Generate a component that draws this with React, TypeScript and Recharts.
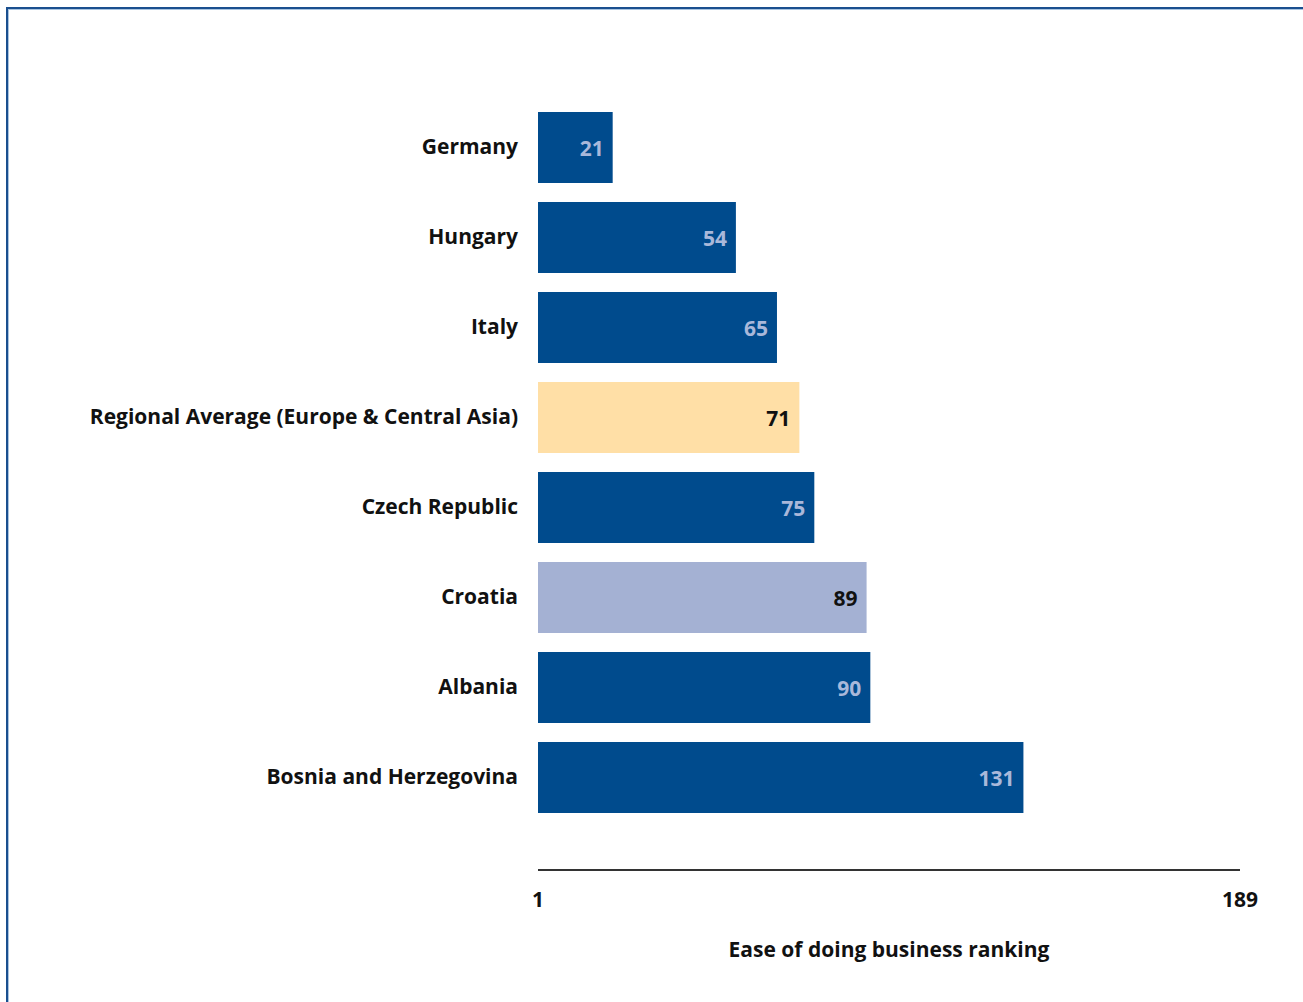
import { Bar, BarChart, Cell, LabelList, XAxis, YAxis } from "recharts";

const countries = [
  "Germany",
  "Hungary",
  "Italy",
  "Regional Average (Europe & Central Asia)",
  "Czech Republic",
  "Croatia",
  "Albania",
  "Bosnia and Herzegovina",
];
const rankings = [21, 54, 65, 71, 75, 89, 90, 131];
// what each row stands for: a plain country, the regional average, or the focus economy
const rowKinds = ["country", "country", "country", "average", "country", "focus", "country", "country"];
const axisTicks = [1, 189];

const barColour: Record<string, string> = {
  country: "#004B8D",
  average: "#FFDFA6",
  focus: "#A4B1D3",
};
const valueColour: Record<string, string> = {
  country: "#A9B8DA",
  average: "#111111",
  focus: "#111111",
};

const rows = countries.map((name, i) => ({ name, rank: rankings[i], kind: rowKinds[i] }));

const FONT = "'Open Sans', 'DejaVu Sans', sans-serif";
const FS = 21;

function ValueLabel(props: any) {
  const { x, y, width, height, value } = props;
  let idx = props.index;
  if (idx === undefined) idx = rankings.indexOf(Number(value));
  const kind = rowKinds[idx] ?? "country";
  return (
    <text
      x={Number(x) + Number(width) - 9}
      y={Number(y) + Number(height) / 2}
      textAnchor="end"
      dominantBaseline="central"
      fill={valueColour[kind]}
      fontFamily={FONT}
      fontWeight={700}
      fontSize={FS}
    >
      {value}
    </text>
  );
}

export default function App() {
  return (
    <div style={{ position: "absolute", left: 0, top: 0, width: 1303, height: 1002, background: "#fff", overflow: "hidden" }}>
      <div
        style={{
          position: "absolute",
          left: 6,
          top: 7,
          width: 1297,
          height: 995,
          borderLeft: "2px solid #1A4F8F",
          borderTop: "2px solid #1A4F8F",
          boxShadow: "inset 1px 1px 0 #A9C4E0",
          boxSizing: "border-box",
        }}
      />
      <div style={{ position: "absolute", left: 0, top: 0 }}>
        <BarChart
          width={1303}
          height={1002}
          data={rows}
          layout="vertical"
          margin={{ top: 102, right: 63, left: 0, bottom: 42 }}
          barSize={71}
        >
          <XAxis
            type="number"
            dataKey="rank"
            domain={[1, 189]}
            ticks={axisTicks}
            allowDataOverflow
            height={90}
            axisLine={{ stroke: "#333", strokeWidth: 2 }}
            tickLine={false}
            tickSize={0}
            tickMargin={22}
            tick={{ fill: "#111", fontFamily: FONT, fontWeight: 700, fontSize: FS }}
            label={{
              value: "Ease of doing business ranking",
              position: "insideBottom",
              offset: 3,
              fill: "#111",
              fontFamily: FONT,
              fontWeight: 700,
              fontSize: FS,
            }}
          />
          <YAxis
            type="category"
            dataKey="name"
            width={538}
            padding={{ top: 0, bottom: 48 }}
            axisLine={false}
            tickLine={false}
            tickSize={0}
            tickMargin={20}
            interval={0}
            tick={{ fill: "#111", fontFamily: FONT, fontWeight: 700, fontSize: FS }}
          />
          <Bar dataKey="rank" isAnimationActive={false}>
            {rows.map((r) => (
              <Cell key={r.name} fill={barColour[r.kind]} />
            ))}
            <LabelList dataKey="rank" content={ValueLabel} />
          </Bar>
        </BarChart>
      </div>
    </div>
  );
}
